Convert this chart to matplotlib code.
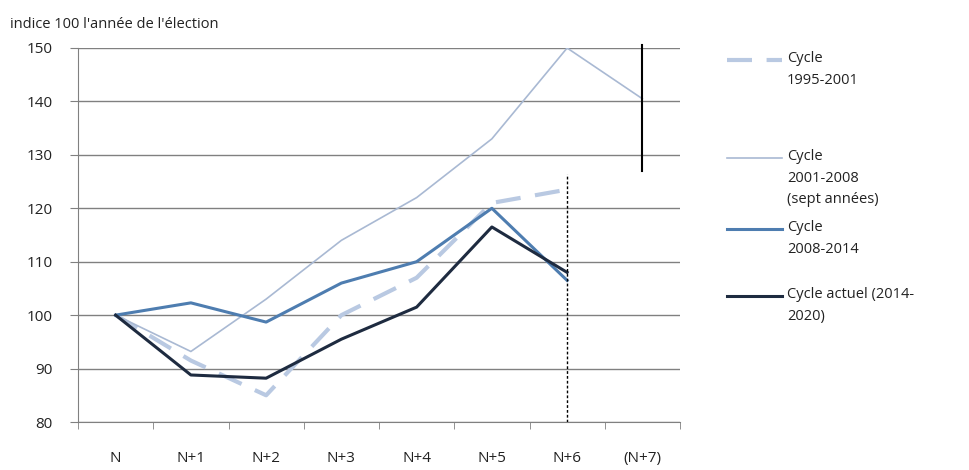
import matplotlib.pyplot as plt
from matplotlib.lines import Line2D

plt.rcParams['font.family'] = ['Open Sans', 'DejaVu Sans']

cats = ["N", "N+1", "N+2", "N+3", "N+4", "N+5", "N+6", "(N+7)"]
c1995 = [100, 91.5, 85, 100, 107, 121, 123.5]
c2001 = [100, 93.2, 103, 114, 122, 133, 150, 140.5]
c2008 = [100, 102.3, 98.7, 106, 110, 120, 106.5]
c2014 = [100, 88.8, 88.2, 95.5, 101.5, 116.5, 108]
labels = ["Cycle\n1995-2001", "Cycle\n2001-2008\n(sept années)",
          "Cycle\n2008-2014", "Cycle actuel (2014-\n2020)"]

col_dash = "#b9c9e2"
col_thin = "#a9b9d3"
col_mid = "#4e7db0"
col_dark = "#1e2b40"

fig = plt.figure(figsize=(9.69, 4.70), dpi=100)
ax = fig.add_axes([78/969, 1-422/470, 602/969, 374/470])

ax.plot(range(len(c1995)), c1995, color=col_dash, lw=3, dashes=(6, 3.5), zorder=3)
ax.plot(range(len(c2001)), c2001, color=col_thin, lw=1.2, zorder=3)
ax.plot(range(len(c2008)), c2008, color=col_mid, lw=2.2, zorder=4)
ax.plot(range(len(c2014)), c2014, color=col_dark, lw=2.2, zorder=5)

# vertical markers
ax.plot([6, 6], [80, 126.5], color="black", lw=1, ls=(0, (2, 1.5)), zorder=6)
ax.plot([7, 7], [127, 150.5], color="black", lw=1.5, zorder=6, clip_on=False)

ax.set_xlim(-0.5, 7.5)
ax.set_ylim(80, 150)
ax.set_yticks(range(80, 151, 10))
ax.set_xticks(range(len(cats)))
ax.set_xticklabels(cats)
ax.set_xticks([i - 0.5 for i in range(9)], minor=True)
ax.tick_params(axis='x', which='major', length=0, pad=21, labelsize=11, colors="#222222")
ax.tick_params(axis='x', which='minor', length=5, color="#808080", direction='out')
ax.tick_params(axis='y', length=6, pad=12, color="#808080", labelsize=11, colors="#222222")
ax.grid(axis='y', color="#808080", lw=1)
ax.set_axisbelow(True)
for s in ['top', 'right']:
    ax.spines[s].set_visible(False)
for s in ['left', 'bottom']:
    ax.spines[s].set_color("#808080")

fig.text(10/969, 1-25/470, "indice 100 l'année de l'élection", fontsize=10.5,
         va='center', color="#222222")

# legend
handles = [
    dict(color=col_dash, lw=3, dashes=(6, 3.5)),
    dict(color=col_thin, lw=1.2),
    dict(color=col_mid, lw=2.2),
    dict(color=col_dark, lw=2.2),
]
ys = [60, 158, 229, 296]
for h, lab, y in zip(handles, labels, ys):
    yf = 1 - y/470
    fig.add_artist(Line2D([727/969, 782/969], [yf, yf], transform=fig.transFigure, **h))
    fig.text(787/969, yf + 9/470, lab, fontsize=10.5, va='top', color="#222222",
             linespacing=1.6)

fig.savefig("out.png", dpi=100)
